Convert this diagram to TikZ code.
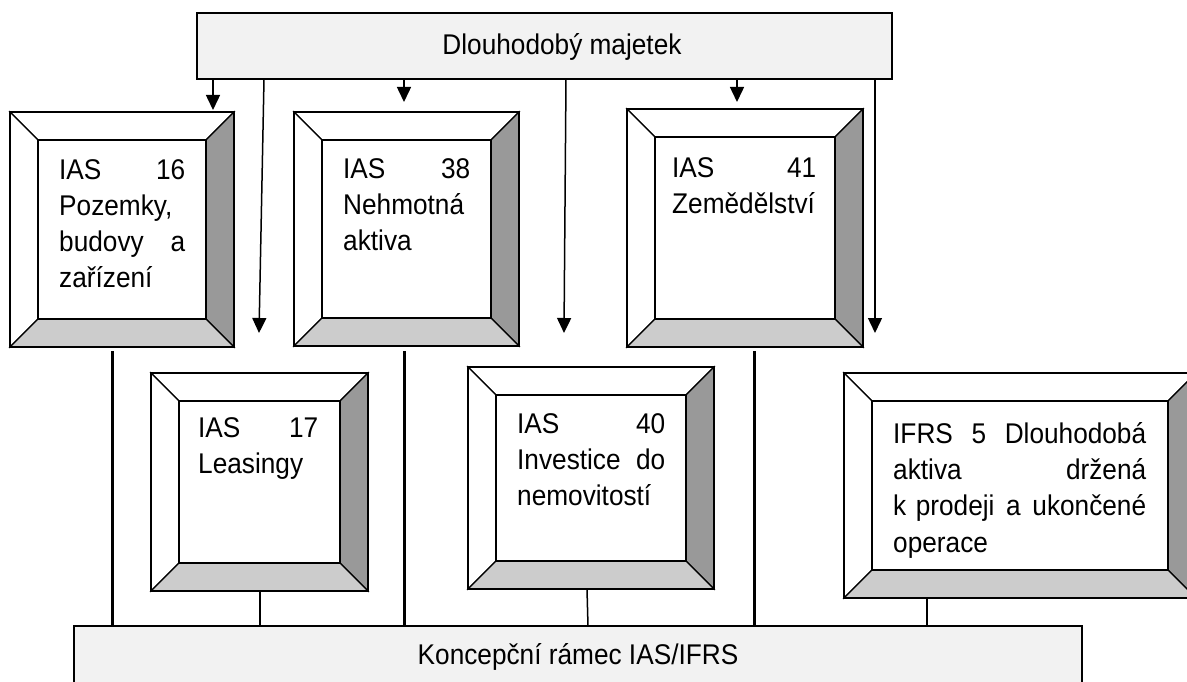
\documentclass[tikz,border=0pt]{standalone}
\usepackage{fontspec}
\setmainfont[FakeStretch=0.92]{Liberation Sans}
\usetikzlibrary{arrows.meta}

\definecolor{panel}{HTML}{F2F2F2}
\definecolor{darkside}{HTML}{999999}
\definecolor{lowside}{HTML}{CCCCCC}

% bevelled frame around a (plain) rectangle node
\newcommand{\bevelframe}[1]{%
    \path[draw,line width=1.2pt,fill=white] (#1.north west) -- (#1.north east) -- ([shift={(-28,28)}]#1.north east) -- ([shift={(28,28)}]#1.north west) -- cycle;
    \path[draw,line width=1.2pt,fill=white] (#1.north west) -- ([shift={(28,28)}]#1.north west) -- ([shift={(28,-28)}]#1.south west) -- (#1.south west) -- cycle;
    \path[draw,line width=1.2pt,fill=darkside] (#1.north east) -- (#1.south east) -- ([shift={(-28,-28)}]#1.south east) -- ([shift={(-28,28)}]#1.north east) -- cycle;
    \path[draw,line width=1.2pt,fill=lowside] (#1.south west) -- ([shift={(28,-28)}]#1.south west) -- ([shift={(-28,-28)}]#1.south east) -- (#1.south east) -- cycle;
    \draw[line width=1.5pt] ([shift={(28,28)}]#1.north west) rectangle ([shift={(-28,-28)}]#1.south east);
    \draw[line width=2pt] (#1.north west) rectangle (#1.south east);
}

\begin{document}
\begin{tikzpicture}[x=1pt,y=-1pt]
\path[use as bounding box,clip] (0,0) rectangle (1187,682);

\begin{scope}[every node/.style={rectangle,draw,line width=1.5pt,fill=panel,inner sep=0pt,outer sep=0pt,font=\fontsize{28.5}{36.3}\selectfont}]
    \node[anchor=north west,minimum width=695pt,minimum height=66pt,text height=23pt,text depth=5pt] (majetek) at (197,13) {\hspace*{35pt}Dlouhodobý majetek};
    \node[anchor=north,minimum width=1008pt,text height=38pt,text depth=40pt] (ramec) at (578,626) {Koncepční rámec IAS/IFRS};
\end{scope}

\begin{scope}[every node/.style={rectangle,inner sep=0pt,outer sep=0pt,anchor=north west}]
    \node[minimum width=224pt,minimum height=235pt] (b16) at (10,112) {};
    \node[minimum width=225pt,minimum height=234pt] (b38) at (294,112) {};
    \node[minimum width=236pt,minimum height=238pt] (b41) at (627,109) {};
    \node[minimum width=217pt,minimum height=218pt] (b17) at (151,373) {};
    \node[minimum width=246pt,minimum height=222pt] (b40) at (468,367) {};
    \node[minimum width=352pt,minimum height=225pt] (b5) at (844,373) {};
\end{scope}
\bevelframe{b16}
\bevelframe{b38}
\bevelframe{b41}
\bevelframe{b17}
\bevelframe{b40}
\bevelframe{b5}

\begin{scope}[every node/.style={anchor=north west,inner sep=0pt,align=left,font=\fontsize{28.5}{36.3}\selectfont}]
    \node[text width=126pt] (t16) at (59,159) {IAS\hfill 16\\Pozemky,\\budovy\hfill a\\zařízení};
    \node[text width=127pt] (t38) at (343,158) {IAS\hfill 38\\Nehmotná\\aktiva};
    \node[text width=144pt] (t41) at (672,157) {IAS\hfill 41\\Zemědělství};
    \node[text width=120pt] (t17) at (198,417) {IAS\hfill 17\\Leasingy};
    \node[text width=148pt] (t40) at (517,413) {IAS\hfill 40\\Investice\hfill do\\nemovitostí};
    \node[text width=253pt] (t5) at (893,422) {IFRS\hfill 5\hfill Dlouhodobá\\aktiva\hfill držená\\k~prodeji\hfill a\hfill ukončené\\operace};
\end{scope}

\coordinate (a16) at (213,110);
\coordinate (a17) at (259,333);
\coordinate (a38) at (404,102);
\coordinate (a40) at (564,333);
\coordinate (a41) at (737,102);
\coordinate (a5) at (875,333);

\begin{scope}[>={Triangle[width=14pt,length=15pt]},
              every edge/.style={draw,line width=1.5pt}]
    \path [->] (majetek.south -| a16) edge (a16);
    \path [->] (majetek.south -| 264,0) edge (a17);
    \path [->] (majetek.south -| a38) edge (a38);
    \path [->] (majetek.south -| 566,0) edge (a40);
    \path [->] (majetek.south -| a41) edge (a41);
    \path [->] (majetek.south -| a5) edge (a5);
\end{scope}

\coordinate (l16) at (112,351);
\coordinate (l38) at (404,351);
\coordinate (l41) at (754,351);

\begin{scope}[every edge/.style={draw,line width=1.5pt}]
    \path (l16) edge[line width=3pt] (l16 |- ramec.north);
    \path (l38) edge[line width=3pt] (l38 |- ramec.north);
    \path (l41) edge[line width=3pt] (l41 |- ramec.north);
    \path (b17.south -| 260,0) edge (ramec.north -| 260,0);
    \path (b40.south -| 587,0) edge (ramec.north -| 588,0);
    \path (b5.south -| 927,0) edge[line width=2.5pt] (ramec.north -| 927,0);
\end{scope}
\end{tikzpicture}
\end{document}
